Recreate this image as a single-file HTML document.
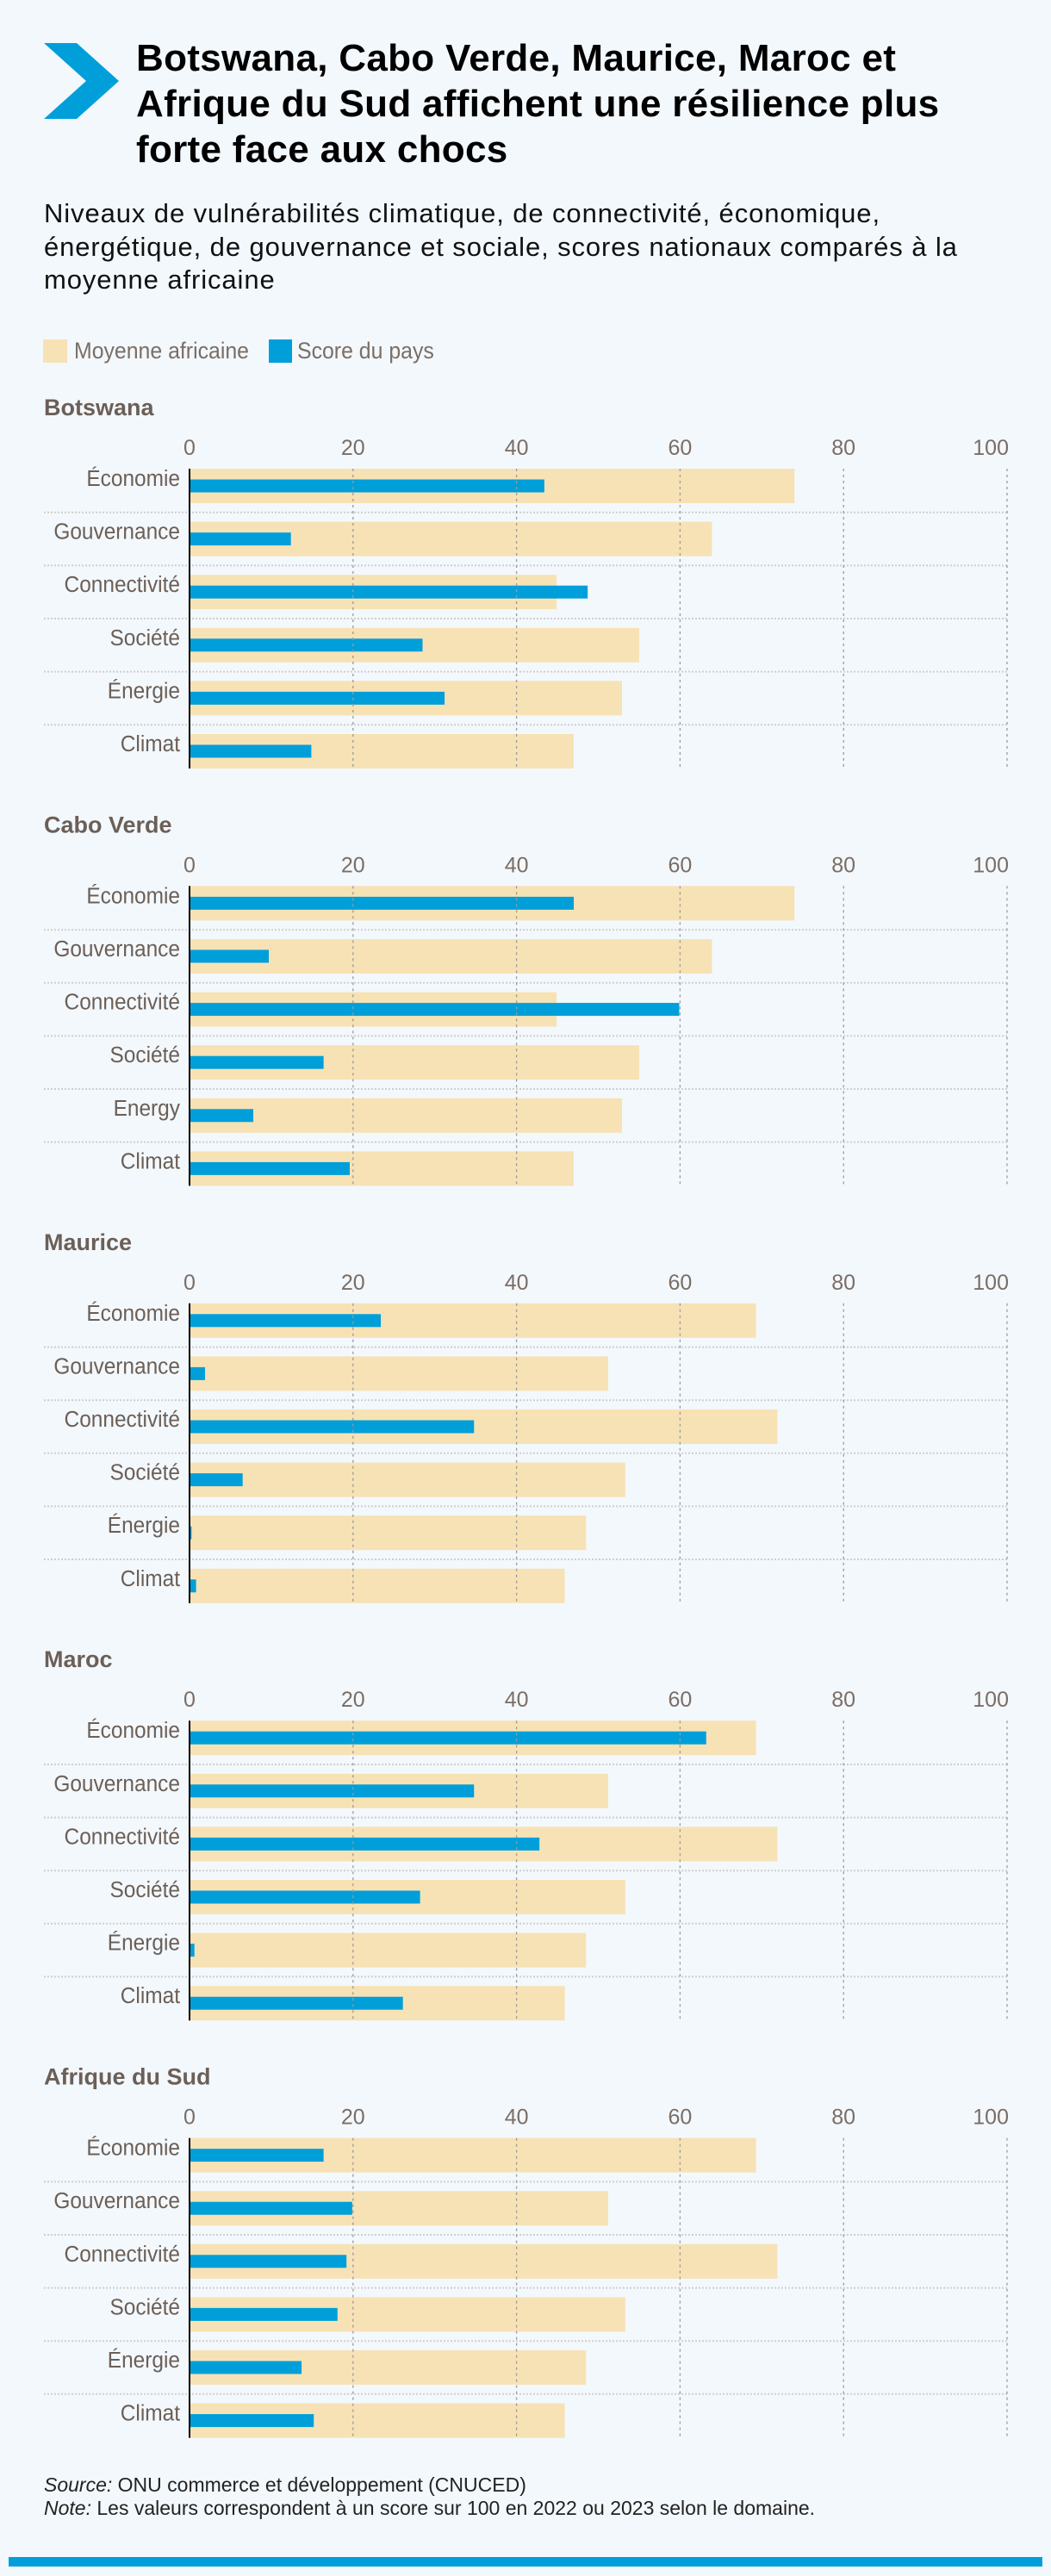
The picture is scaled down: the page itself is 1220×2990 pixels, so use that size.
<!DOCTYPE html>
<html><head><meta charset="utf-8">
<style>
body{margin:0;background:#f3f8fc;}
#page{position:relative;width:1220px;height:2990px;background:#f3f8fc;font-family:"Liberation Sans Narrow","Liberation Sans",sans-serif;overflow:hidden}
.abs{position:absolute}
#title{left:158px;top:41px;font-family:"Liberation Sans",sans-serif;font-weight:bold;font-size:44px;line-height:53px;color:#000;letter-spacing:0.3px;white-space:nowrap}
#subtitle{left:51px;top:229px;font-family:"Liberation Sans",sans-serif;font-size:31px;line-height:38.5px;color:#111;white-space:nowrap;letter-spacing:0.9px;transform:scaleX(0.87);transform-origin:left top;transform:none}
.legtxt{font-size:27px;color:#7a6e66;top:392px;transform:scaleX(0.92);transform-origin:left top;white-space:nowrap}
.note{left:51px;font-size:23px;color:#222;white-space:nowrap}
</style></head><body>
<div id="page">
<svg class="abs" style="left:51px;top:50px" width="87" height="88"><polygon points="0,0 38,0 87,44 38,88 0,88 49,44" fill="#009fda"/></svg>
<div id="title" class="abs">Botswana, Cabo Verde, Maurice, Maroc et<br>Afrique du Sud affichent une résilience plus<br>forte face aux chocs</div>
<div id="subtitle" class="abs">Niveaux de vulnérabilités climatique, de connectivité, économique,<br>énergétique, de gouvernance et sociale, scores nationaux comparés à la<br>moyenne africaine</div>
<div class="abs" style="left:50px;top:394px;width:28px;height:27px;background:#f7e2b5"></div>
<div class="abs legtxt" style="left:86px">Moyenne africaine</div>
<div class="abs" style="left:312px;top:394px;width:27px;height:27px;background:#009fda"></div>
<div class="abs legtxt" style="left:345px">Score du pays</div>
<svg id="charts" class="abs" style="left:0;top:0" width="1220" height="2990"></svg>
<div class="abs note" style="top:2871px"><i>Source:</i> ONU commerce et développement (CNUCED)</div>
<div class="abs note" style="top:2898px"><i>Note:</i> Les valeurs correspondent à un score sur 100 en 2022 ou 2023 selon le domaine.</div>
<div class="abs" style="left:10px;top:2968px;width:1200px;height:11px;background:#009fda"></div>
</div>
<script>
const countries=["Botswana","Cabo Verde","Maurice","Maroc","Afrique du Sud"];
const catsDefault=["Économie","Gouvernance","Connectivité","Société","Énergie","Climat"];
const catsCabo=["Économie","Gouvernance","Connectivité","Société","Energy","Climat"];
const avgA=[74,63.9,44.9,55,52.9,47];
const avgB=[69.3,51.2,71.9,53.3,48.5,45.9];
const scoreBotswana=[43.4,12.4,48.7,28.5,31.2,14.9];
const scoreCabo=[47,9.7,59.9,16.4,7.8,19.6];
const scoreMaurice=[23.4,1.9,34.8,6.5,0.25,0.8];
const scoreMaroc=[63.2,34.8,42.8,28.2,0.6,26.1];
const scoreAfSud=[16.4,19.9,19.2,18.1,13.7,15.2];
const ticks=[0,20,40,60,80,100];

const charts=[
 {name:countries[0],cats:catsDefault,avg:avgA,score:scoreBotswana},
 {name:countries[1],cats:catsCabo,avg:avgA,score:scoreCabo},
 {name:countries[2],cats:catsDefault,avg:avgB,score:scoreMaurice},
 {name:countries[3],cats:catsDefault,avg:avgB,score:scoreMaroc},
 {name:countries[4],cats:catsDefault,avg:avgB,score:scoreAfSud}
];
const svg=document.getElementById('charts');
const NS='http://www.w3.org/2000/svg';
const x0=220,x1=1169;
function xs(v){return x0+(x1-x0)*v/100;}
function mk(tag,attrs,parent){const e=document.createElementNS(NS,tag);for(const k in attrs)e.setAttribute(k,attrs[k]);(parent||svg).appendChild(e);return e;}
const FONT='"Liberation Sans Narrow","Liberation Sans",sans-serif';
charts.forEach((c,i)=>{
  const T=473+i*484.4;
  const g=mk('g',{});
  
  
  const t=mk('text',{x:51,y:T+9,'font-family':FONT,'font-weight':'bold','font-size':27,fill:'#6b5f57'},g);
  t.textContent=c.name;
  
  
  const top=T+71,pitch=61.6,bh=40,sh=15,bottom=top+5*pitch+bh;
  for(let r=1;r<6;r++){
    const y=top+r*pitch-(pitch-bh)/2;
    const l=mk('line',{x1:51,x2:x1,y1:y,y2:y,stroke:'#cfcfcf','stroke-width':2,'stroke-dasharray':'2,2'},g);
    
    
  }
  ticks.forEach(v=>{
    const tx=mk('text',{x:v===100?x1+2:xs(v),y:T+55,'text-anchor':v===100?'end':'middle','font-family':FONT,'font-size':25,fill:'#7a6e66'},g);
    tx.textContent=v;
    
    
  });
  c.cats.forEach((cat,r)=>{
    const y=top+r*pitch;
    const a=mk('rect',{x:x0,y:y,width:xs(c.avg[r])-x0,height:bh,fill:'#f7e2b5'},g);
    
    
    const s=mk('rect',{x:x0,y:y+(bh-sh)/2,width:xs(c.score[r])-x0,height:sh,fill:'#009fda'},g);
    
    
    const lb=mk('text',{x:209,y:y+20,'text-anchor':'end','font-family':FONT,'font-size':26,fill:'#6b5f57',transform:'translate(209 0) scale(0.94 1) translate(-209 0)'},g);
    lb.textContent=cat;
    
    
  });
  ticks.slice(1).forEach(v=>{
    const gl=mk('line',{x1:xs(v),x2:xs(v),y1:top,y2:bottom,stroke:'#9a9a9a','stroke-width':1.3,'stroke-dasharray':'3,4'},g);
    
    
  });
  const ax=mk('line',{x1:x0,x2:x0,y1:top,y2:bottom,stroke:'#000','stroke-width':2},g);
  
  
});
</script>
</body></html>
